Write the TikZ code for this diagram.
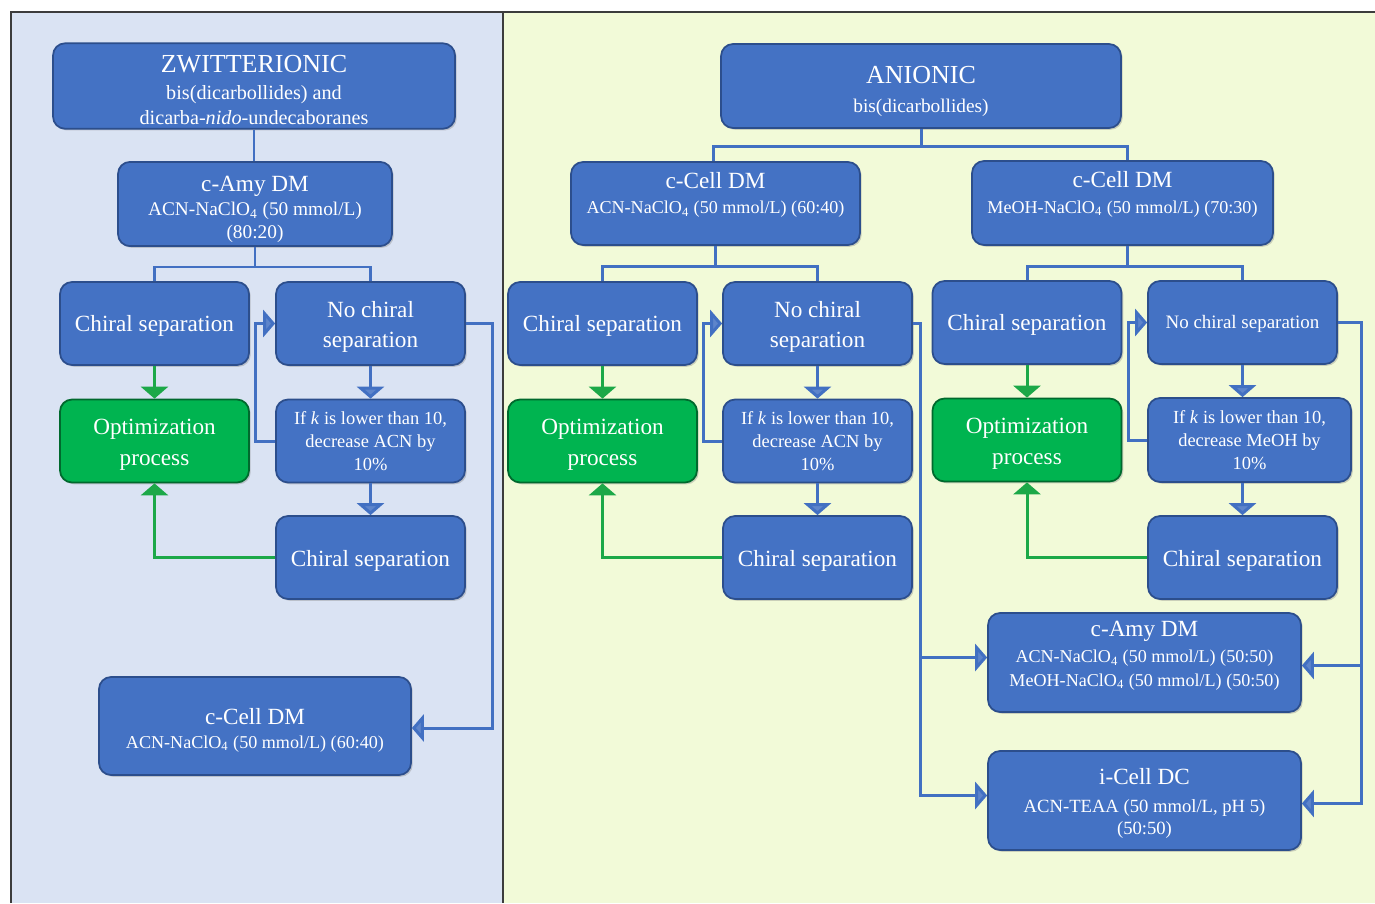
\documentclass[tikz,border=0pt]{standalone}
\usepackage{fontspec}
\setmainfont{Liberation Serif}
\usetikzlibrary{arrows.meta,shadows}
\definecolor{boxblue}{RGB}{68,114,196}
\definecolor{boxedge}{RGB}{44,78,140}
\definecolor{boxgreen}{RGB}{0,180,80}
\definecolor{greenedge}{RGB}{0,105,45}
\definecolor{linkblue}{RGB}{66,112,194}
\definecolor{linkgreen}{RGB}{28,168,72}
\definecolor{leftbg}{RGB}{218,227,243}
\definecolor{rightbg}{RGB}{242,250,216}
\definecolor{framegray}{RGB}{60,60,60}
\newcommand{\TitleTxt}[1]{{\fontsize{14.8}{20}\selectfont #1}}
\newcommand{\MedTxt}[1]{{\fontsize{13.2}{17}\selectfont #1}}
\newcommand{\lowdepth}[1]{\rule[-#1]{0pt}{0pt}}
\newcommand{\tophigh}[1]{\rule{0pt}{#1}}
\begin{document}
\begin{tikzpicture}[x=0.02cm,y=-0.02cm,
  box/.style={draw=boxedge, line width=1pt, fill=boxblue, rounded corners=0.24cm,
    text=white, align=center, inner sep=2pt,
    drop shadow={shadow xshift=1pt, shadow yshift=-1pt, opacity=0.35}},
  gbox/.style={box, draw=greenedge, fill=boxgreen},
  std/.style={minimum width=3.78cm, minimum height=1.66cm},
  med/.style={font=\fontsize{13.2}{17.2}\selectfont},
  sml/.style={font=\fontsize{10.5}{13}\selectfont},
  conn/.style={draw=linkblue, line width=1.7pt},
  arr/.style={conn, -{Triangle[length=0.24cm,width=0.54cm,fill=linkblue!85!white]}},
  garr/.style={draw=linkgreen, line width=1.7pt, -{Triangle[length=0.24cm,width=0.54cm,fill=linkgreen]}}
]
\useasboundingbox (0,0) rectangle (1375,903);
\fill[white] (0,0) rectangle (1375,903);
\fill[leftbg] (11,12) rectangle (503,903);
\fill[rightbg] (503,12) rectangle (1375,903);
\draw[draw=framegray, line width=1.2pt] (11,903) -- (11,12) -- (1375,12);
\draw[draw=framegray, line width=1.2pt] (503,12) -- (503,903);

% ---------------- left panel ----------------
\node[box, minimum width=8.04cm, minimum height=1.68cm, font=\fontsize{11.5}{14.4}\selectfont] (ZW) at (254,86)
  {\tophigh{14.5pt}\TitleTxt{ZWITTERIONIC}\\[1.2pt]bis(dicarbollides) and\\dicarba-\textit{nido}-undecaboranes};
\node[box, minimum width=5.48cm, minimum height=1.66cm, font=\fontsize{11}{13.3}\selectfont] (cAmy) at (255,204)
  {\tophigh{15pt}\MedTxt{c-Amy DM}\\ACN-NaClO\textsubscript{4} (50 mmol/L)\\(80:20)};
\node[box, std, med] (CS1) at (154.5,323.5) {\tophigh{12.3pt}Chiral separation};
\node[box, std, med] (NC1) at (370.5,323.5) {\tophigh{13pt}No chiral\\separation};
\node[gbox, std, med] (OP1) at (154.5,441) {\tophigh{13pt}Optimization\\process};
\node[box, std, sml] (IF1) at (370.5,441) {If \textit{k} is lower than 10,\\decrease ACN by\\10\%};
\node[box, std, med] (CS1b) at (370.5,557.5) {\tophigh{12.5pt}Chiral separation};
\node[box, minimum width=6.24cm, minimum height=1.96cm, font=\fontsize{10.3}{13.6}\selectfont] (cCellL) at (255,726)
  {\tophigh{14pt}\MedTxt{c-Cell DM}\\ACN-NaClO\textsubscript{4} (50 mmol/L) (60:40)};

\draw[conn] (ZW.south) -- (ZW.south |- cAmy.north);
\draw[conn] (cAmy.south) -- ++(0,20) coordinate (b1);
\draw[conn] (CS1.north) |- (b1) -| (NC1.north);
\draw[garr] (CS1.south) -- (OP1.north);
\draw[arr] (NC1.south) -- (IF1.north);
\draw[arr] (IF1.south) -- (CS1b.north);
\draw[arr] (IF1.west) -- ++(-20,0) |- (NC1.west);
\draw[garr] (CS1b.west) -| (OP1.south);
\draw[arr] (NC1.east) -- ++(27,0) |- ([yshift=-0.04cm]cCellL.east);

% ---------------- right panel ----------------
\node[box, minimum width=8.0cm, minimum height=1.68cm, font=\fontsize{11}{14}\selectfont] (AN) at (921,86)
  {\tophigh{15.5pt}\TitleTxt{ANIONIC}\\[2.5pt]bis(dicarbollides)};
\node[box, minimum width=5.78cm, minimum height=1.66cm, font=\fontsize{10.3}{14.5}\selectfont] (cCellA) at (715.5,203.5)
  {\MedTxt{c-Cell DM}\\ACN-NaClO\textsubscript{4} (50 mmol/L) (60:40)\lowdepth{12pt}};
\node[box, minimum width=6.02cm, minimum height=1.68cm, font=\fontsize{10.3}{14.5}\selectfont] (cCellM) at (1122.5,203)
  {\MedTxt{c-Cell DM}\\MeOH-NaClO\textsubscript{4} (50 mmol/L) (70:30)\lowdepth{12pt}};

\node[box, std, med] (CS2) at (602.5,323.5) {\tophigh{12.3pt}Chiral separation};
\node[box, std, med] (NC2) at (817.5,323.5) {\tophigh{13pt}No chiral\\separation};
\node[gbox, std, med] (OP2) at (602.5,441) {\tophigh{13pt}Optimization\\process};
\node[box, std, sml] (IF2) at (817.5,441) {If \textit{k} is lower than 10,\\decrease ACN by\\10\%};
\node[box, std, med] (CS2b) at (817.5,557.5) {\tophigh{12.5pt}Chiral separation};

\node[box, std, med] (CS3) at (1027,322.5) {\tophigh{12.3pt}Chiral separation};
\node[box, std, font=\fontsize{10.8}{13}\selectfont] (NC3) at (1242.5,322.5) {\tophigh{9.5pt}No chiral separation};
\node[gbox, std, med] (OP3) at (1027,440) {\tophigh{13pt}Optimization\\process};
\node[box, minimum width=4.06cm, minimum height=1.68cm, sml] (IF3) at (1249.5,440) {If \textit{k} is lower than 10,\\decrease MeOH by\\10\%};
\node[box, std, med] (CS3b) at (1242.5,557.5) {\tophigh{12.5pt}Chiral separation};

\node[box, minimum width=6.26cm, minimum height=1.98cm, font=\fontsize{10.3}{13.5}\selectfont] (cAmy2) at (1144.5,662.5)
  {\MedTxt{c-Amy DM}\\[1.2pt]ACN-NaClO\textsubscript{4} (50 mmol/L) (50:50)\\MeOH-NaClO\textsubscript{4} (50 mmol/L) (50:50)\lowdepth{10pt}};
\node[box, minimum width=6.26cm, minimum height=1.98cm, font=\fontsize{10.6}{13}\selectfont] (iCell) at (1144.5,800.5)
  {\tophigh{13pt}\MedTxt{i-Cell DC}\\[2.5pt]ACN-TEAA (50 mmol/L, pH 5)\\(50:50)};

\draw[conn] (AN.south) -- ++(0,18) coordinate (b0);
\draw[conn] ([xshift=-0.04cm]cCellA.north) |- (b0) -| ([xshift=0.1cm]cCellM.north);

\draw[conn] (cCellA.south) -- ++(0,21) coordinate (b2);
\draw[conn] (CS2.north) |- (b2) -| (NC2.north);
\draw[garr] (CS2.south) -- (OP2.north);
\draw[arr] (NC2.south) -- (IF2.north);
\draw[arr] (IF2.south) -- (CS2b.north);
\draw[arr] (IF2.west) -- ++(-19,0) |- (NC2.west);
\draw[garr] (CS2b.west) -| (OP2.south);

\draw[conn] ([xshift=0.1cm]cCellM.south) -- ++(0,21) coordinate (b3);
\draw[conn] (CS3.north) |- (b3) -| (NC3.north);
\draw[garr] (CS3.south) -- (OP3.north);
\draw[arr] (NC3.south) -- (NC3.south |- IF3.north);
\draw[arr] (IF3.south -| CS3b.north) -- (CS3b.north);
\draw[arr] (IF3.west) -- ++(-19,0) |- (NC3.west);
\draw[garr] (CS3b.west) -| (OP3.south);

\draw[arr] (NC2.east) -- ++(8,0) coordinate (r2) |- ([yshift=0.1cm]cAmy2.west);
\draw[arr] (r2) |- ([yshift=0.1cm]iCell.west);
\draw[arr] (NC3.east) -- ++(24,0) coordinate (r3) |- ([yshift=-0.06cm]cAmy2.east);
\draw[arr] (r3) |- ([yshift=-0.06cm]iCell.east);
\end{tikzpicture}
\end{document}
